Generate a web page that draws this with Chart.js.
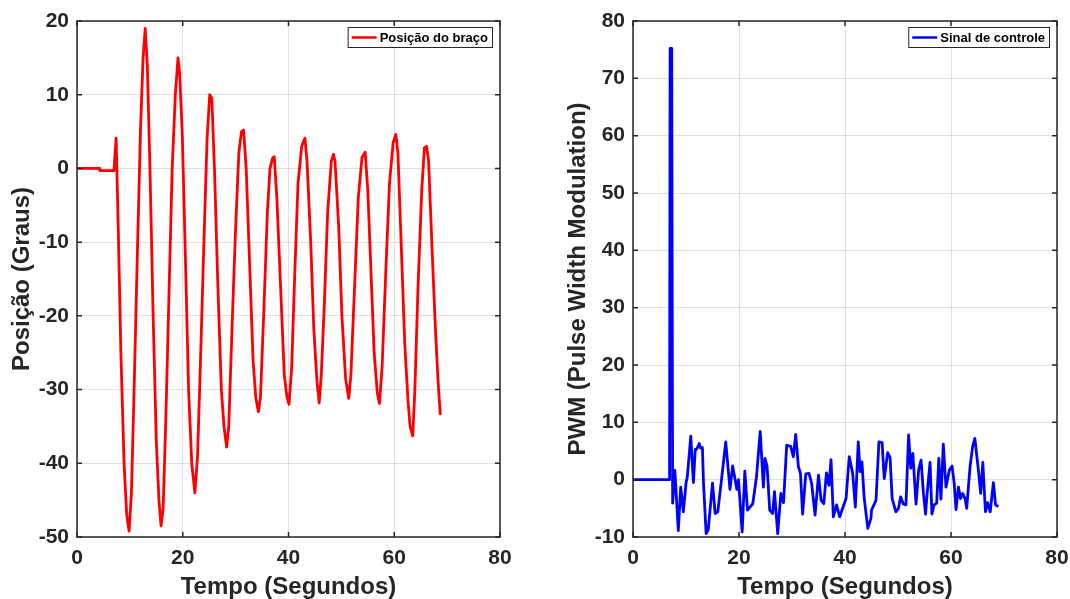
<!DOCTYPE html>
<html>
<head>
<meta charset="utf-8">
<script src="https://cdn.jsdelivr.net/npm/chart.js@4"></script>
<style>
  body { margin: 0; background: #fff; }
  .box { position: absolute; top: 0; width: 535px; height: 599px; }
</style>
</head>
<body>
<div class="box" style="left:0"><canvas id="posChart" width="535" height="599"></canvas></div>
<div class="box" style="left:535px"><canvas id="pwmChart" width="535" height="599"></canvas></div>
<script>
// Posição do braço (graus) x tempo (s)
const posTime = [0, 4.2, 4.3, 7.0, 7.2, 7.4, 7.8, 8.3, 8.9, 9.4, 9.85, 10.3, 10.8, 11.4, 12.0, 12.5, 12.9, 13.3, 13.8, 14.4,
  15.0, 15.5, 15.9, 16.3, 16.8, 17.4, 18.0, 18.6, 19.1, 19.4, 19.9, 20.5, 21.1, 21.7, 22.3, 22.8, 23.4, 24.0, 24.6, 25.1,
  25.5, 26.0, 26.6, 27.3, 27.8, 28.3, 28.7, 29.3, 30.0, 30.6, 31.1, 31.5, 32.0, 32.6, 33.3, 33.8, 34.3, 34.7, 35.3, 36.0,
  36.5, 37.0, 37.3, 37.8, 38.5, 39.2, 39.7, 40.1, 40.6, 41.2, 41.8, 42.5, 43.1, 43.5, 44.2, 44.8, 45.4, 45.8, 46.2, 46.8,
  47.4, 48.1, 48.5, 48.8, 49.5, 50.1, 50.8, 51.4, 51.8, 52.5, 53.2, 53.9, 54.5, 55.0, 55.6, 56.2, 56.8, 57.2, 57.7, 58.4,
  59.1, 59.8, 60.3, 60.7, 61.3, 62.0, 62.6, 63.0, 63.5, 63.9, 64.5, 65.2, 65.7, 66.1, 66.5, 67.1, 67.8, 68.3, 68.7];
const posValue = [0, 0, -0.3, -0.3, 2, 4.1, -8, -25, -40, -47, -49.2, -44, -30, -12, 5, 15, 19, 14, 0, -20,
  -37, -45, -48.5, -46, -34, -17, 0, 10, 15, 13, 5, -12, -30, -40, -44, -39, -25, -10, 4, 10,
  9.5, 0, -15, -30, -35, -37.8, -35, -22, -8, 2, 5, 5.2, 0, -12, -26, -31, -33, -31, -20, -6,
  0, 1.4, 1.6, -4, -16, -28, -31, -32, -27, -14, -2, 3, 4.1, 1, -10, -22, -29, -31.8, -28, -18,
  -6, 1, 1.9, 1, -8, -20, -28.5, -31.2, -28, -16, -4, 1.5, 2.2, -3, -14, -25, -30.5, -31.9, -27, -14,
  -2, 3.5, 4.6, 2, -10, -24, -31.5, -35, -36.3, -30, -16, -3, 2.8, 3, 1, -10, -22, -29, -33.3];

// Sinal de controle (PWM) x tempo (s)
const pwmTime = [0, 6.9, 7.0, 7.3, 7.48, 7.9, 8.55, 9.0, 9.5, 10.0, 10.25, 10.9, 11.4, 11.75, 12.0, 12.5, 12.75, 13.1, 13.3, 13.8,
  14.2, 15.0, 15.5, 16.0, 16.7, 17.5, 18.3, 18.8, 19.6, 19.9, 20.6, 21.1, 21.6, 22.6, 23.3, 24.0, 24.6, 24.9, 25.3, 25.8,
  26.35, 26.7, 27.3, 27.9, 28.4, 29.0, 29.75, 30.25, 30.7, 31.2, 31.6, 32.0, 32.6, 33.2, 33.7, 34.35, 35.0, 35.5, 36.0, 36.5,
  36.98, 37.36, 37.8, 38.4, 39.0, 39.7, 40.2, 40.8, 41.45, 41.95, 42.5, 42.85, 43.2, 43.6, 44.3, 44.9, 45.0, 45.85, 46.4, 47.0,
  47.4, 48.05, 48.5, 48.9, 49.6, 50.1, 50.5, 51.0, 51.5, 52.0, 52.4, 52.8, 53.4, 53.9, 54.35, 54.8, 55.2, 55.5, 56.05, 56.4,
  56.8, 57.3, 57.7, 58.1, 58.55, 59.05, 59.7, 60.2, 60.6, 60.95, 61.4, 61.8, 62.2, 62.65, 62.96, 63.6, 64.1, 64.5, 65.2, 65.6,
  66.0, 66.5, 66.9, 67.4, 68.0, 68.4, 68.75];
const pwmValue = [0, 0, 75.2, 75.2, -4.1, 1.6, -8.9, -1.3, -5.6, -0.6, 0.5, 7.6, -0.5, 5.3, 5.3, 6.3, 5.5, 5.6, -0.6, -9.4,
  -8.7, -0.6, -5.9, -5.6, 0, 6.6, -1.7, 2.4, -1.7, 0, -9.1, 1.5, -5.3, -4.2, 0.5, 8.4, -1.3, 3.7, 2.3, -5.3,
  -5.9, -2.1, -9.4, -2.4, -4.0, 6.0, 5.8, 4.0, 7.9, 2.3, 1.1, -6.0, 1.0, 1.1, -0.6, -6.2, 0.8, -3.6, -4.2, 1.2,
  -1.0, 3.5, -6.5, -4.4, -6.5, -4.6, -3.3, 4.0, 1.1, -4.8, 6.6, 1.4, 3.1, -3.0, -8.5, -6.75, -5.3, -3.6, 6.6, 6.45,
  0.2, 4.7, 3.9, -3.3, -5.6, -5.0, -3.0, -4.25, -4.4, 7.8, 2.0, 4.6, -4.25, 1.7, 3.4, -2.4, -6.0, -2.4, 3.0, -6.0,
  -4.4, -4.1, 3.7, -3.4, 6.2, -1.3, 1.7, 2.4, -0.6, -5.2, -1.3, -3.3, -2.4, -3.3, -5.0, 2.3, 5.9, 7.2, 1.4, -2.4,
  3.0, -5.6, -4.0, -5.6, -0.5, -4.4, -4.6];

const xTicks = [0, 20, 40, 60, 80];
const posTicks = [-50, -40, -30, -20, -10, 0, 10, 20];
const pwmTicks = [-10, 0, 10, 20, 30, 40, 50, 60, 70, 80];

const axisColor = '#262626';
const fontFamily = "'Liberation Sans', Arial, sans-serif";

// moldura com ticks para dentro nos quatro lados + legenda no canto
const matlabFrame = {
  id: 'matlabFrame',
  afterDraw(chart) {
    const ctx = chart.ctx;
    const a = chart.chartArea;
    const xs = chart.scales.x, ys = chart.scales.y;
    ctx.save();
    ctx.strokeStyle = axisColor;
    ctx.lineWidth = 1.5;
    ctx.strokeRect(a.left, a.top, a.right - a.left, a.bottom - a.top);
    ctx.beginPath();
    const len = 5;
    xs.ticks.forEach(t => {
      const px = xs.getPixelForValue(t.value);
      ctx.moveTo(px, a.bottom); ctx.lineTo(px, a.bottom - len);
      ctx.moveTo(px, a.top); ctx.lineTo(px, a.top + len);
    });
    ys.ticks.forEach(t => {
      const py = ys.getPixelForValue(t.value);
      ctx.moveTo(a.left, py); ctx.lineTo(a.left + len, py);
      ctx.moveTo(a.right, py); ctx.lineTo(a.right - len, py);
    });
    ctx.stroke();

    // legenda
    const ds = chart.data.datasets[0];
    ctx.font = 'bold 13px ' + fontFamily;
    const tw = ctx.measureText(ds.label).width;
    const w = tw + 36, h = 20;
    const x0 = a.right - 8 - w, y0 = a.top + 6;
    ctx.fillStyle = '#fff';
    ctx.fillRect(x0, y0, w, h);
    ctx.lineWidth = 1;
    ctx.strokeStyle = axisColor;
    ctx.strokeRect(x0 + 0.5, y0 + 0.5, w, h);
    ctx.strokeStyle = ds.borderColor;
    ctx.lineWidth = 2.5;
    ctx.beginPath();
    ctx.moveTo(x0 + 4, y0 + h / 2 + 0.5);
    ctx.lineTo(x0 + 29, y0 + h / 2 + 0.5);
    ctx.stroke();
    ctx.fillStyle = '#000';
    ctx.textBaseline = 'middle';
    ctx.fillText(ds.label, x0 + 32, y0 + h / 2 + 1);
    ctx.restore();
  }
};

function makeChart(id, label, color, times, values, yMin, yMax, yTickList, yTitle, yWidth, titleOffset, rightPad) {
  const points = times.map((t, i) => ({ x: t, y: values[i] }));
  return new Chart(document.getElementById(id).getContext('2d'), {
    type: 'line',
    data: {
      datasets: [{
        label: label,
        data: points,
        borderColor: color,
        backgroundColor: color,
        borderWidth: 2.8,
        borderJoinStyle: 'round',
        borderCapStyle: 'round',
        pointRadius: 0,
        tension: 0,
        fill: false
      }]
    },
    options: {
      responsive: false,
      animation: false,
      layout: { padding: { top: 21, right: rightPad, left: 0, bottom: 0 } },
      plugins: { legend: { display: false }, tooltip: { enabled: false } },
      scales: {
        x: {
          type: 'linear', min: 0, max: 80,
          afterBuildTicks: s => { s.ticks = xTicks.map(v => ({ value: v })); },
          afterFit: s => { s.height = 62; s.paddingLeft = 0; s.paddingRight = 0; },
          grid: { color: 'rgba(0,0,0,0.12)', drawTicks: false },
          border: { display: false },
          ticks: { color: axisColor, padding: 9, font: { family: fontFamily, size: 21, weight: 'bold' } },
          title: { display: true, text: 'Tempo (Segundos)', color: axisColor, padding: { top: 0, bottom: -3 },
                   font: { family: fontFamily, size: 24, weight: 'bold' } }
        },
        y: {
          type: 'linear', min: yMin, max: yMax,
          afterBuildTicks: s => { s.ticks = yTickList.map(v => ({ value: v })); },
          afterFit: s => { s.width = yWidth; s.paddingTop = 0; s.paddingBottom = 0; },
          grid: { color: 'rgba(0,0,0,0.12)', drawTicks: false },
          border: { display: false },
          ticks: { color: axisColor, padding: 8, font: { family: fontFamily, size: 21, weight: 'bold' } },
          title: { display: true, text: yTitle, color: axisColor, padding: { top: titleOffset, bottom: 0 },
                   font: { family: fontFamily, size: 24, weight: 'bold' } }
        }
      }
    },
    plugins: [matlabFrame]
  });
}

makeChart('posChart', 'Posição do braço', '#ff0000', posTime, posValue, -50, 20, posTicks,
  'Posição (Graus)', 77, 8, 35);
makeChart('pwmChart', 'Sinal de controle', '#0000ff', pwmTime, pwmValue, -10, 80, pwmTicks,
  'PWM (Pulse Width Modulation)', 98, 29, 13);
</script>
</body>
</html>
